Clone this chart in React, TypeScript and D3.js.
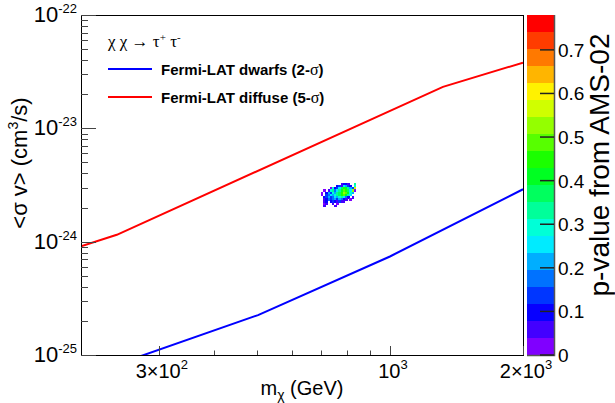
import React, { useRef, useEffect } from 'react';
import * as d3 from 'd3';

// limit curves: mass (GeV) and <sigma v> (cm^3/s)
const dwarfMass = [200, 503, 1000, 2000];
const dwarfSigma = [6.4e-26, 2.25e-25, 7.4e-25, 2.9e-24];
const diffuseMass = [200, 241, 1318, 2000];
const diffuseSigma = [9.1e-25, 1.15e-24, 2.32e-23, 3.8e-23];

// p-value scan from AMS-02, one char per cell = colour band (0-9, a-j), '.' = empty
const scanMassRange = [698, 838];
const scanSigmaRange = [3.3e-24, 2.02e-24];
const scanRows = [
  '.........1221..8',
  '.......2316532.79',
  '....072369ba853e',
  '.0.178468acb96d0',
  '0.2537589bdca75.',
  '0.3465789bca86..',
  '.2353465786 42.1.',
  '.1243453542 1.0..',
  '.12.2321311.....',
  '.01..1.0........',
  '.1....1.........',
];

const xMajor = [300, 1000, 2000];
const xMinor = [400, 500, 600, 700, 800, 900];
const xLabels = [['3×10', '2'], ['10', '3'], ['2×10', '3']];
const yDecades = [-25, -24, -23, -22];
const zTicks = [0, 0.1, 0.2, 0.3, 0.4, 0.5, 0.6, 0.7];
const zMax = 0.78;
const nBands = 20;

export default function App() {
  const ref = useRef<SVGSVGElement>(null);

  useEffect(() => {
    const svg = d3.select(ref.current);
    svg.selectAll('*').remove();

    const width = 615;
    const height = 403;
    const left = 81, right = 523, top = 15, bottom = 355;
    const font = 'Liberation Sans, Arial, sans-serif';

    svg.attr('width', width).attr('height', height);

    const x = d3.scaleLog().domain([200, 2000]).range([left, right]);
    const y = d3.scaleLog().domain([1e-25, 1e-22]).range([bottom, top]);
    const z = d3.scaleLinear().domain([0, zMax]).range([bottom, top]);
    const bandColor = (i: number) => d3.hsl(270 * (1 - i / (nBands - 1)), 1, 0.5).formatHex();

    svg.append('defs').append('clipPath').attr('id', 'plotclip')
      .append('rect').attr('x', left).attr('y', top)
      .attr('width', right - left).attr('height', bottom - top);

    // scan cells
    const nCols = 16;
    const nRows = scanRows.length;
    const mEdge = (c: number) => scanMassRange[0] * Math.pow(scanMassRange[1] / scanMassRange[0], c / nCols);
    const sEdge = (r: number) => scanSigmaRange[0] * Math.pow(scanSigmaRange[1] / scanSigmaRange[0], r / nRows);
    const cells: { c: number; r: number; band: number }[] = [];
    scanRows.forEach((row, r) => {
      row.replace(/ /g, '').slice(0, nCols).split('').forEach((ch, c) => {
        if (ch === '.') return;
        cells.push({ c, r, band: parseInt(ch, 36) });
      });
    });
    svg.append('g').attr('shape-rendering', 'crispEdges')
      .selectAll('rect').data(cells).join('rect')
      .attr('x', d => x(mEdge(d.c)))
      .attr('y', d => y(sEdge(d.r)))
      .attr('width', d => x(mEdge(d.c + 1)) - x(mEdge(d.c)) + 0.3)
      .attr('height', d => y(sEdge(d.r + 1)) - y(sEdge(d.r)) + 0.3)
      .attr('fill', d => bandColor(d.band));

    // limit lines
    const line = d3.line<[number, number]>().x(d => x(d[0])).y(d => y(d[1]));
    const curves = [
      { m: dwarfMass, s: dwarfSigma, color: '#0000ff' },
      { m: diffuseMass, s: diffuseSigma, color: '#ff0000' },
    ];
    svg.append('g').attr('clip-path', 'url(#plotclip)')
      .selectAll('path').data(curves).join('path')
      .attr('d', d => line(d.m.map((m, i) => [m, d.s[i]] as [number, number])))
      .attr('fill', 'none').attr('stroke', d => d.color).attr('stroke-width', 2);

    // frame
    svg.append('rect').attr('x', left + 0.5).attr('y', top + 0.5)
      .attr('width', right - left).attr('height', bottom - top)
      .attr('fill', 'none').attr('stroke', '#000').attr('stroke-width', 1);

    // y ticks
    const yTicks: { v: number; major: boolean }[] = [];
    yDecades.forEach((e, i) => {
      yTicks.push({ v: Math.pow(10, e), major: true });
      if (i < yDecades.length - 1) {
        for (let k = 2; k <= 9; k++) yTicks.push({ v: k * Math.pow(10, e), major: false });
      }
    });
    svg.append('g').selectAll('line').data(yTicks).join('line')
      .attr('x1', left).attr('x2', d => left + (d.major ? 15 : 7))
      .attr('y1', d => Math.round(y(d.v)) + 0.5).attr('y2', d => Math.round(y(d.v)) + 0.5)
      .attr('stroke', '#444').attr('stroke-width', 1);

    const yLab = svg.append('g').selectAll('text').data(yDecades).join('text')
      .attr('x', 77).attr('y', d => y(Math.pow(10, d)) + 7)
      .attr('text-anchor', 'end').attr('font-family', font).attr('font-size', 22);
    yLab.append('tspan').text('10');
    yLab.append('tspan').attr('dy', -9).attr('font-size', 13).text(d => String(d));

    // x ticks
    const xTicks = [
      ...xMajor.map(v => ({ v, major: true })),
      ...xMinor.map(v => ({ v, major: false })),
    ];
    svg.append('g').selectAll('line').data(xTicks).join('line')
      .attr('x1', d => Math.round(x(d.v)) + 0.5).attr('x2', d => Math.round(x(d.v)) + 0.5)
      .attr('y1', bottom).attr('y2', d => bottom - (d.major ? 9 : 4.5))
      .attr('stroke', '#444').attr('stroke-width', 1);

    const xLab = svg.append('g').selectAll('text').data(xMajor).join('text')
      .attr('x', d => x(d) + 3).attr('y', 378)
      .attr('text-anchor', 'middle').attr('font-family', font).attr('font-size', 20);
    xLab.append('tspan').text((d, i) => xLabels[i][0]);
    xLab.append('tspan').attr('dy', -9).attr('font-size', 13).text((d, i) => xLabels[i][1]);

    // axis titles
    const xt = svg.append('text').attr('x', 302).attr('y', 395)
      .attr('text-anchor', 'middle').attr('font-family', font).attr('font-size', 20);
    xt.append('tspan').text('m');
    xt.append('tspan').attr('dy', 5).attr('font-size', 14).text('χ');
    xt.append('tspan').attr('dy', -5).text(' (GeV)');

    const yt = svg.append('text').attr('transform', 'translate(27,163) rotate(-90)')
      .attr('text-anchor', 'middle').attr('font-family', font).attr('font-size', 22);
    yt.append('tspan').text('<σ v> (cm');
    yt.append('tspan').attr('dy', -9).attr('font-size', 14).text('3');
    yt.append('tspan').attr('dy', 9).text('/s)');

    // colour bar
    const bands = d3.range(nBands);
    const bw = zMax / nBands;
    svg.append('g').attr('shape-rendering', 'crispEdges')
      .selectAll('rect').data(bands).join('rect')
      .attr('x', 527).attr('width', 27)
      .attr('y', d => z((d + 1) * bw)).attr('height', d => z(d * bw) - z((d + 1) * bw))
      .attr('fill', d => bandColor(d));
    svg.append('path')
      .attr('d', `M554.5,${top}V${bottom + 0.5}H527`)
      .attr('fill', 'none').attr('stroke', '#555').attr('stroke-width', 1.5);
    svg.append('g').selectAll('line').data(zTicks).join('line')
      .attr('x1', 540).attr('x2', 554)
      .attr('y1', d => z(d)).attr('y2', d => z(d))
      .attr('stroke', '#222').attr('stroke-width', 1.5);
    svg.append('g').selectAll('text').data(zTicks).join('text')
      .attr('x', 558).attr('y', d => z(d) + 7)
      .attr('font-family', font).attr('font-size', 19)
      .text(d => d3.format('.1~f')(d));
    svg.append('text').attr('transform', 'translate(609,165) rotate(-90)')
      .attr('text-anchor', 'middle').attr('font-family', font).attr('font-size', 28)
      .text('p-value from AMS-02');

    // legend
    const head = svg.append('text').attr('x', 108).attr('y', 47)
      .attr('font-family', 'Liberation Serif, serif').attr('font-size', 17);
    head.append('tspan').text('χ χ → τ');
    head.append('tspan').attr('dy', -6).attr('font-size', 11).text('+');
    head.append('tspan').attr('dy', 6).text(' τ');
    head.append('tspan').attr('dy', -6).attr('font-size', 11).text('-');

    const entries = [
      { label: 'Fermi-LAT dwarfs (2-', color: '#0000ff', yy: 69 },
      { label: 'Fermi-LAT diffuse (5-', color: '#ff0000', yy: 97 },
    ];
    const leg = svg.append('g').selectAll('g').data(entries).join('g');
    leg.append('line').attr('x1', 108).attr('x2', 152)
      .attr('y1', d => d.yy).attr('y2', d => d.yy)
      .attr('stroke', d => d.color).attr('stroke-width', 2);
    const lt = leg.append('text').attr('x', 161).attr('y', d => d.yy + 6)
      .attr('font-family', font).attr('font-size', 15).attr('font-weight', 'bold');
    lt.append('tspan').text(d => d.label);
    lt.append('tspan').attr('font-weight', 'normal').attr('font-family', 'Liberation Serif, serif').attr('font-size', 16).text('σ');
    lt.append('tspan').text(')');
  }, []);

  return <svg ref={ref} style={{ position: 'absolute', left: 0, top: 0, display: 'block' }} />;
}
